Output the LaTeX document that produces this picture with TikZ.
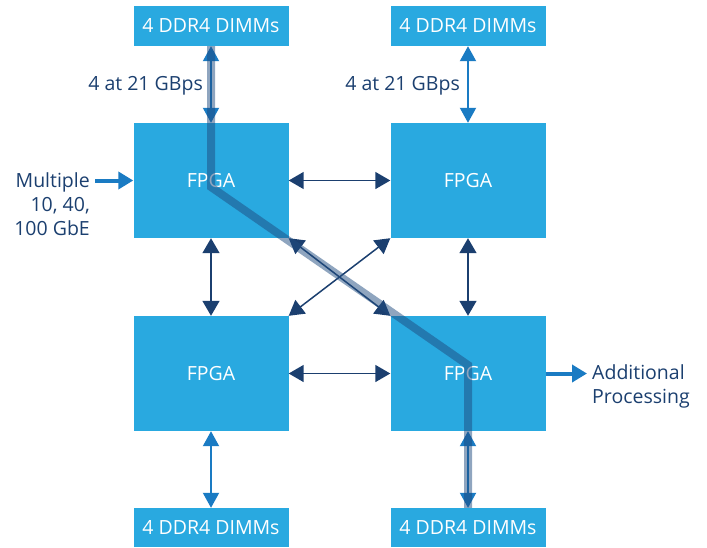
\documentclass[tikz,border=0pt]{standalone}
\usepackage{fontspec}
\setmainfont{Open Sans}
\usetikzlibrary{arrows.meta}
\definecolor{boxblue}{HTML}{29A9E0}
\definecolor{navy}{HTML}{1B3F6F}
\definecolor{midblue}{HTML}{1A7BC3}
\definecolor{hlcol}{HTML}{1F4B7F}
\tikzset{
  fpga/.style={fill=boxblue, draw=none, text=white, minimum width=155pt, minimum height=115pt, inner sep=0pt, font=\fontsize{19.5}{22}\selectfont},
  dimm/.style={fpga, minimum height=40pt},
  navyarrow/.style={draw=navy, line width=1.5pt, {Triangle[length=15pt,width=17pt]}-{Triangle[length=15pt,width=17pt]}},
  memarrow/.style={draw=midblue, line width=2pt, {Triangle[length=15pt,width=16pt]}-{Triangle[length=15pt,width=16pt]}},
  ioarrow/.style={draw=midblue, line width=4pt, -{Triangle[length=15pt,width=17pt]}},
  lbl/.style={text=navy, inner sep=0pt, font=\fontsize{19.5}{24}\selectfont},
  hl/.style={draw=hlcol, opacity=0.5, line width=8pt, line join=miter}
}
\begin{document}
\begin{tikzpicture}[x=1pt,y=-1pt]
\useasboundingbox (0,0) rectangle (707,547);
\node[fpga] (fA) at (211,180.5) {FPGA};
\node[fpga] (fB) at (468,180.5) {FPGA};
\node[fpga] (fC) at (211,373.5) {FPGA};
\node[fpga] (fD) at (468,373.5) {FPGA};
\node[dimm] (dA) at (211,26) {4 DDR4 DIMMs};
\node[dimm] (dB) at (468,26) {4 DDR4 DIMMs};
\node[dimm, minimum height=39pt] (dC) at (211,527.5) {4 DDR4 DIMMs};
\node[dimm, minimum height=39pt] (dD) at (468,527.5) {4 DDR4 DIMMs};
% FPGA interconnect
\draw[navyarrow] (fA.east) -- (fB.west);
\draw[navyarrow] (fC.east) -- (fD.west);
\draw[navyarrow] (fA.south) -- (fC.north);
\draw[navyarrow] (fB.south) -- (fD.north);
\draw[navyarrow] (fA.south east) -- (fD.north west);
\draw[navyarrow] (fB.south west) -- (fC.north east);
% memory
\draw[memarrow] (dA.south) -- (fA.north);
\draw[memarrow] (dB.south) -- (fB.north);
\draw[memarrow] (fC.south) -- (dC.north);
\draw[memarrow] (fD.south) -- (dD.north);
\node[lbl, anchor=base east] (bwA) at (203,90) {4 at 21 GBps};
\node[lbl, anchor=base east] (bwB) at (460,90) {4 at 21 GBps};
% I/O
\coordinate (inS) at (95,180.5);
\draw[ioarrow] (inS) -- (fA.west);
\node[lbl, align=right, anchor=north east] (inL) at (90,172) {Multiple\\10, 40,\\100 GbE};
\coordinate (outE) at (587,373.5);
\draw[ioarrow] (fD.east) -- (outE);
\node[lbl, align=left, anchor=north west] (outL) at (592,364) {Additional\\Processing};
% highlighted data path
\coordinate (t1) at (211,187);
\coordinate (t2) at (468,365);
\draw[hl] (dA.south) -- (t1) -- (t2) -- (dD.north);
\end{tikzpicture}
\end{document}
